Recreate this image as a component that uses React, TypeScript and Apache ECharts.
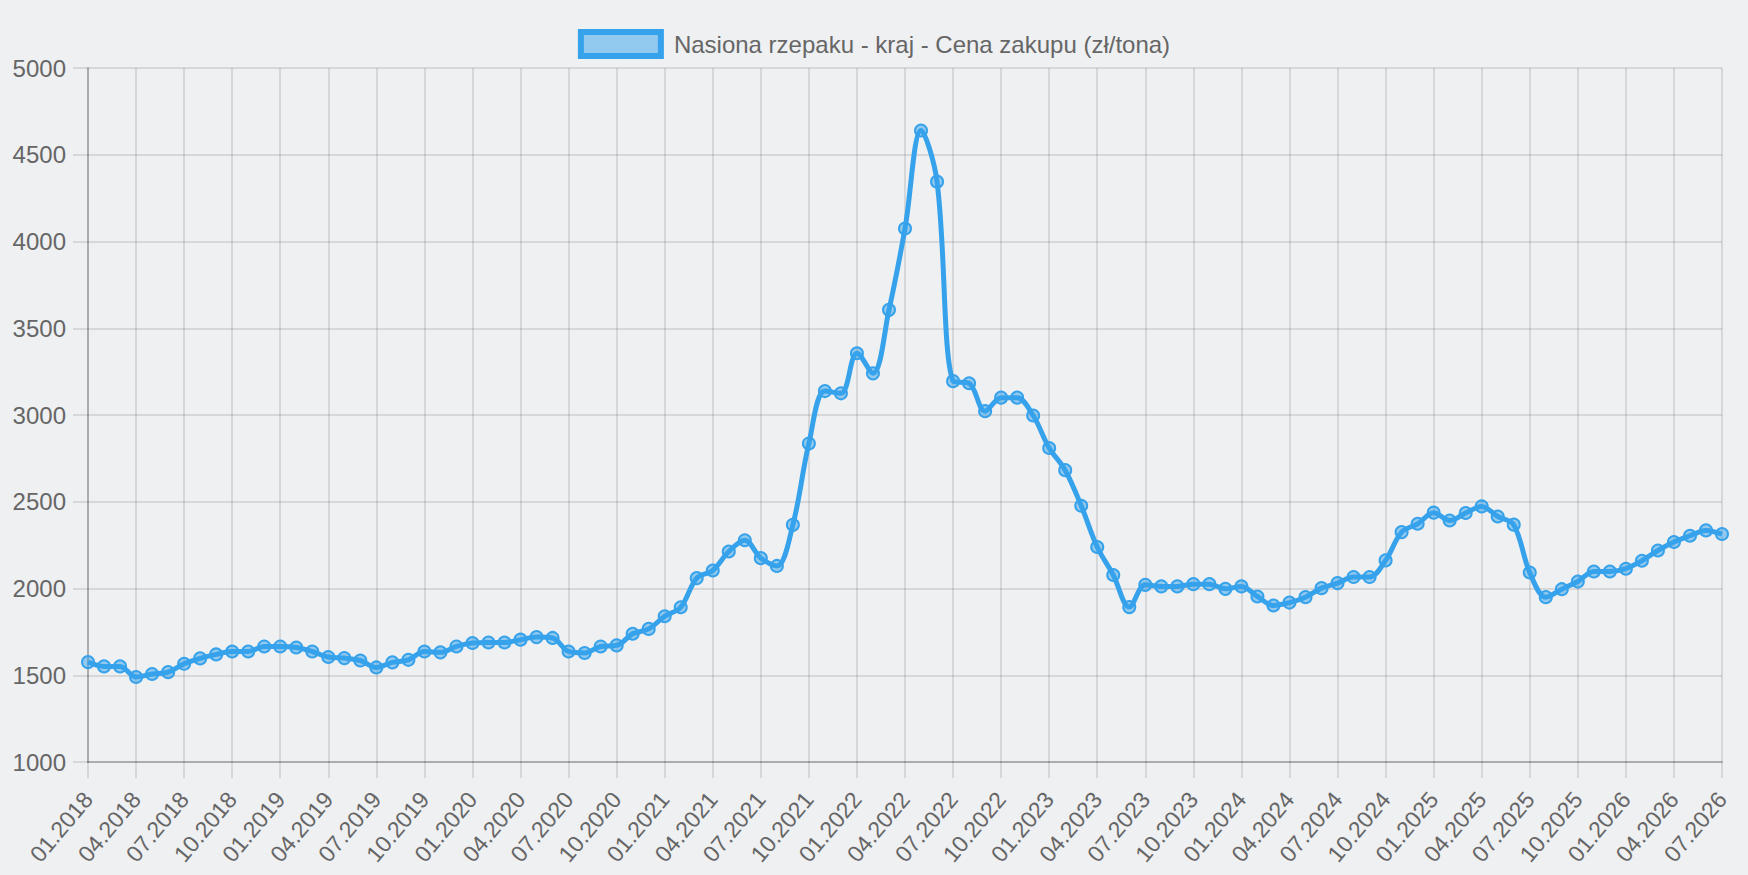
import React, { useEffect, useRef } from 'react';
import * as echarts from 'echarts';

const FONT = "'Liberation Sans', Arial, sans-serif";
const TEXT_COLOR = '#666';
const GRID_COLOR = 'rgba(0,0,0,0.1)';
const LINE_COLOR = '#36a2eb';

const seriesName = 'Nasiona rzepaku - kraj - Cena zakupu (zł/tona)';

// months 01.2018 .. 07.2026
const startYear = 2018;
const monthCount = 103;
const months: string[] = [];
for (let i = 0; i < monthCount; i++) {
  const m = (i % 12) + 1;
  const y = startYear + Math.floor(i / 12);
  months.push(`${m < 10 ? '0' + m : m}.${y}`);
}

// values, zł/tona
const prices2018 = [1576, 1551, 1551, 1490, 1507, 1518, 1566, 1597, 1620, 1637, 1637, 1666];
const prices2019 = [1666, 1660, 1637, 1605, 1599, 1585, 1545, 1574, 1589, 1637, 1632, 1666];
const prices2020 = [1686, 1689, 1689, 1705, 1720, 1715, 1637, 1628, 1666, 1672, 1739, 1767];
const prices2021 = [1840, 1892, 2060, 2104, 2213, 2278, 2175, 2130, 2367, 2836, 3138, 3125];
const prices2022 = [3356, 3240, 3606, 4075, 4640, 4345, 3195, 3183, 3022, 3100, 3100, 2997];
const prices2023 = [2810, 2682, 2477, 2239, 2078, 1893, 2021, 2012, 2012, 2025, 2025, 1998];
const prices2024 = [2012, 1954, 1902, 1919, 1950, 2002, 2031, 2066, 2066, 2162, 2325, 2373];
const prices2025 = [2437, 2392, 2435, 2473, 2415, 2368, 2092, 1950, 1996, 2040, 2098, 2098];
const prices2026 = [2114, 2160, 2219, 2268, 2304, 2335, 2314];

const prices = [
  ...prices2018, ...prices2019, ...prices2020, ...prices2021, ...prices2022,
  ...prices2023, ...prices2024, ...prices2025, ...prices2026,
];

const yMin = 1000;
const yMax = 5000;
const yStep = 500;

const App: React.FC = () => {
  const chartRef = useRef<HTMLDivElement>(null);

  useEffect(() => {
    if (!chartRef.current) return;
    const chart = echarts.init(chartRef.current, undefined, { renderer: 'svg' });

    const option: echarts.EChartsOption = {
      animation: false,
      backgroundColor: '#eff0f2',
      textStyle: { fontFamily: FONT },
      legend: {
        top: 24,
        left: 'center',
        icon: 'rect',
        itemWidth: 80,
        itemHeight: 24,
        itemStyle: {
          color: 'rgba(54,162,235,0.5)',
          borderColor: LINE_COLOR,
          borderWidth: 6,
        },
        textStyle: {
          color: TEXT_COLOR,
          fontSize: 24,
          fontFamily: FONT,
          padding: [0, 0, 0, 8],
        },
        data: [seriesName],
      },
      grid: {
        left: 88,
        right: 26,
        top: 68,
        bottom: 113,
      },
      xAxis: {
        type: 'category',
        data: months,
        boundaryGap: false,
        axisLine: { lineStyle: { color: 'rgba(0,0,0,0.2)', width: 2 } },
        axisTick: {
          show: true,
          interval: 2,
          length: 16,
          lineStyle: { color: GRID_COLOR, width: 2 },
        },
        axisLabel: {
          interval: 2,
          rotate: 50,
          margin: 33,
          color: TEXT_COLOR,
          fontSize: 23,
          fontFamily: FONT,
        },
        splitLine: {
          show: true,
          interval: 2,
          lineStyle: { color: GRID_COLOR, width: 2 },
        },
      },
      yAxis: {
        type: 'value',
        min: yMin,
        max: yMax,
        interval: yStep,
        axisLine: { show: true, lineStyle: { color: 'rgba(0,0,0,0.2)', width: 2 } },
        axisTick: {
          show: true,
          length: 15,
          lineStyle: { color: GRID_COLOR, width: 2 },
        },
        axisLabel: {
          margin: 22,
          color: TEXT_COLOR,
          fontSize: 24,
          fontFamily: FONT,
          formatter: (v: number) => String(v),
        },
        splitLine: {
          show: true,
          lineStyle: { color: GRID_COLOR, width: 2 },
        },
      },
      series: [
        {
          name: seriesName,
          type: 'line',
          data: prices,
          smooth: 0.35,
          symbol: 'circle',
          symbolSize: 12,
          showAllSymbol: true,
          lineStyle: { color: LINE_COLOR, width: 5 },
          itemStyle: {
            color: 'rgba(54,162,235,0.5)',
            borderColor: LINE_COLOR,
            borderWidth: 2,
          },
        },
      ],
    };

    chart.setOption(option);

    return () => {
      chart.dispose();
    };
  }, []);

  return (
    <div
      ref={chartRef}
      style={{ position: 'fixed', left: 0, top: 0, width: 1748, height: 875 }}
    />
  );
};

export default App;
